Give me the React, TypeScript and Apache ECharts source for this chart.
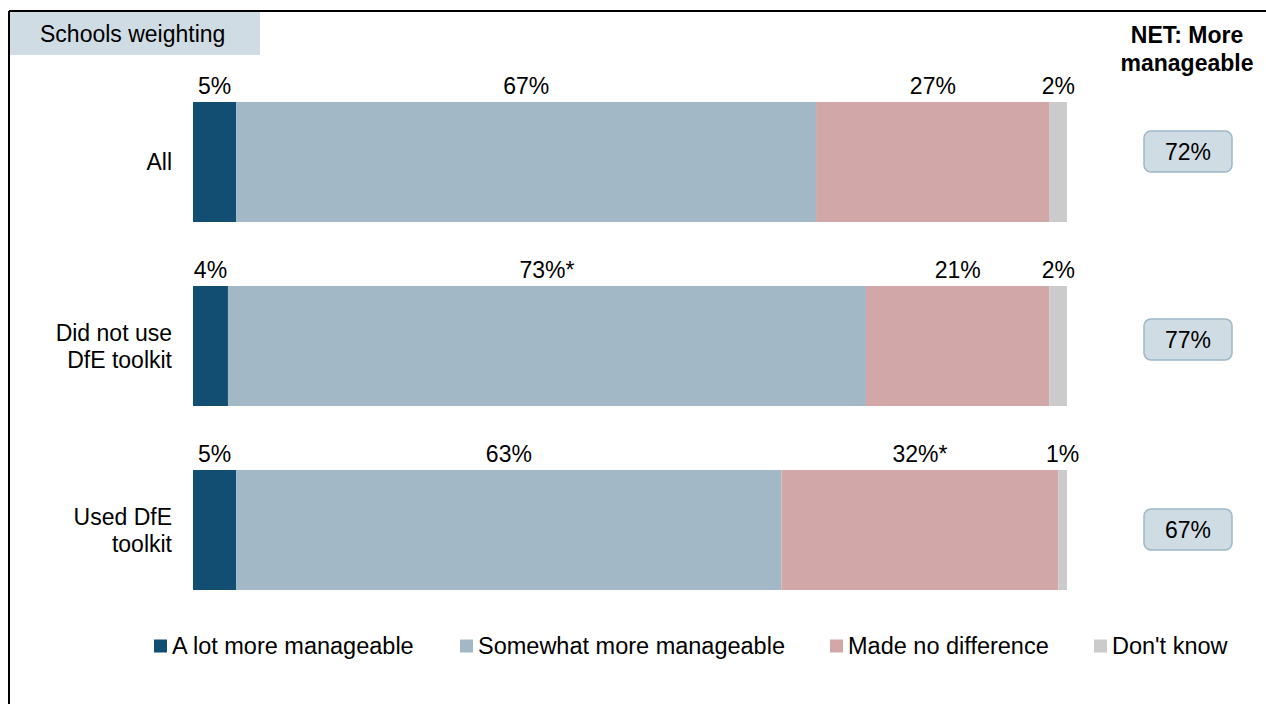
import React, { useEffect, useRef } from "react";
import * as echarts from "echarts";

const categories = ["All", "Did not use\nDfE toolkit", "Used DfE\ntoolkit"];
const seriesNames = ["A lot more manageable", "Somewhat more manageable", "Made no difference", "Don't know"];
const aLotMore = [5, 4, 5];
const somewhatMore = [67, 73, 63];
const noDifference = [27, 21, 32];
const dontKnow = [2, 2, 1];
// significance markers per series per row
const sigAlot = ["", "", ""];
const sigSomewhat = ["", "*", ""];
const sigNoDiff = ["", "", "*"];
const sigDontKnow = ["", "", ""];
const netValues = ["72%", "77%", "67%"];
const colors = ["#124e72", "#a2b8c6", "#d1a7a8", "#cbcbcb"];

const FONT = "'Liberation Sans', Arial, Helvetica, sans-serif";
const FS = 23;

export default function App() {
  const ref = useRef<HTMLDivElement>(null);
  useEffect(() => {
    if (!ref.current) return;
    const chart = echarts.init(ref.current, null, { renderer: "svg" });
    const raw = [aLotMore, somewhatMore, noDifference, dontKnow];
    const sigs = [sigAlot, sigSomewhat, sigNoDiff, sigDontKnow];
    const totals = categories.map((_, i) => raw.reduce((s, arr) => s + arr[i], 0));

    const series = raw.map((arr, si) => ({
      name: seriesNames[si],
      type: "bar",
      stack: "total",
      barWidth: 120,
      data: arr.map((v, i) => (v / totals[i]) * 100),
      itemStyle: { color: colors[si] },
      label: {
        show: true,
        position: "top",
        distance: 5,
        fontSize: FS,
        fontFamily: FONT,
        color: "#000",
        formatter: (p: any) => `${arr[p.dataIndex]}%${sigs[si][p.dataIndex]}`,
      },
      emphasis: { disabled: true },
    }));

    const legendLefts = [149, 455, 825, 1089];
    const legends = seriesNames.map((n, i) => ({
      data: [n],
      left: legendLefts[i],
      top: 629,
      icon: "rect",
      itemWidth: 13,
      itemHeight: 13,
      selectedMode: false,
      textStyle: { fontSize: 23.5, fontFamily: FONT, color: "#000" },
    }));

    const netBoxY = [151, 339, 529];
    const graphics: any[] = [
      { type: "line", shape: { x1: 9, y1: 11, x2: 1266, y2: 11 }, style: { stroke: "#000", lineWidth: 2 } },
      { type: "line", shape: { x1: 9, y1: 11, x2: 9, y2: 704 }, style: { stroke: "#000", lineWidth: 2 } },
      { type: "rect", shape: { x: 10, y: 12, width: 250, height: 43 }, style: { fill: "#d0dce3" } },
      {
        type: "text",
        x: 40,
        y: 34,
        style: { text: "Schools weighting", fontSize: FS, fontFamily: FONT, fill: "#000", textVerticalAlign: "middle", textAlign: "left" },
      },
      {
        type: "text",
        x: 1187,
        y: 49,
        style: {
          text: "NET: More\nmanageable",
          fontSize: FS,
          fontWeight: "bold",
          lineHeight: 28,
          fontFamily: FONT,
          fill: "#000",
          textAlign: "center",
          textVerticalAlign: "middle",
        },
      },
    ];
    netValues.forEach((v, i) => {
      graphics.push({
        type: "rect",
        shape: { x: 1144, y: netBoxY[i] - 20, width: 88, height: 41, r: 7 },
        style: { fill: "#d0dce3", stroke: "#9db7c7", lineWidth: 1.5 },
      });
      graphics.push({
        type: "text",
        x: 1188,
        y: netBoxY[i] + 1,
        style: { text: v, fontSize: FS, fontFamily: FONT, fill: "#000", textAlign: "center", textVerticalAlign: "middle" },
      });
    });

    chart.setOption({
      animation: false,
      textStyle: { fontFamily: FONT },
      grid: { left: 193, right: 199, top: 70, bottom: 82, containLabel: false },
      xAxis: { type: "value", min: 0, max: 100, show: false },
      yAxis: {
        type: "category",
        data: categories,
        inverse: true,
        axisLine: { show: false },
        axisTick: { show: false },
        axisLabel: { fontSize: FS, fontFamily: FONT, color: "#000", margin: 21, lineHeight: 27, align: "right" },
      },
      legend: legends,
      series,
      graphic: graphics,
    });
    return () => chart.dispose();
  }, []);
  return (
    <div
      ref={ref}
      style={{ position: "absolute", left: 0, top: 0, width: 1266, height: 704, background: "#fff" }}
    />
  );
}
